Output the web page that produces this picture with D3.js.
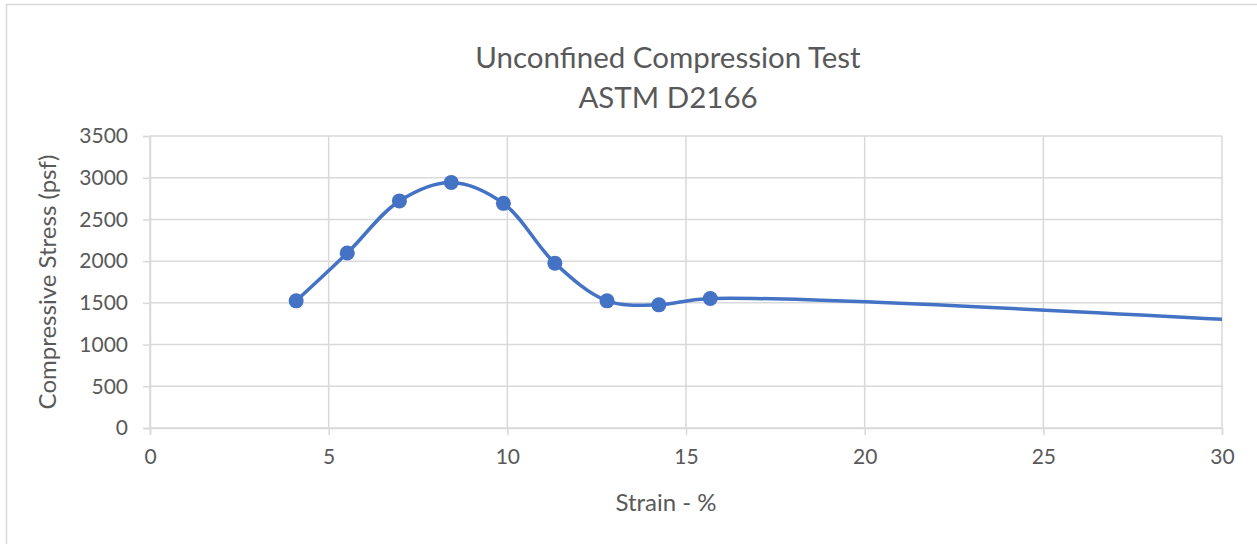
<!DOCTYPE html>
<html>
<head>
<meta charset="utf-8">
<script src="https://cdn.jsdelivr.net/npm/d3@7"></script>
<style>
  body { margin: 0; background: #fff; }
  svg text { font-family: Lato, "Open Sans", sans-serif; fill: #595959; }
</style>
</head>
<body>
<div id="chart"></div>
<script>
// strain (%) and compressive stress (psf)
const strain = [4.09, 5.52, 6.98, 8.43, 9.89, 11.33, 12.79, 14.24, 15.68, 40];
const stress = [1524, 2097, 2722, 2944, 2693, 1976, 1524, 1476, 1552, 1060];
const xTicks = [0, 5, 10, 15, 20, 25, 30];
const yTicks = [0, 500, 1000, 1500, 2000, 2500, 3000, 3500];
const titleLines = ['Unconfined Compression Test', 'ASTM D2166'];

const width = 1257, height = 544;
const margin = { left: 150, right: 35, top: 136, bottom: 116 };
const plotW = width - margin.left - margin.right;
const plotH = height - margin.top - margin.bottom;

const svg = d3.select('#chart').append('svg')
  .attr('width', width)
  .attr('height', height);

// chart border
svg.append('rect')
  .attr('x', 6.5).attr('y', 4.5)
  .attr('width', width + 10).attr('height', height + 10)
  .attr('fill', '#fff')
  .attr('stroke', '#d9d9d9')
  .attr('stroke-width', 1.5);

const x = d3.scaleLinear().domain([0, 30]).range([0, plotW]);
const y = d3.scaleLinear().domain([0, 3500]).range([plotH, 0]);

const g = svg.append('g')
  .attr('transform', `translate(${margin.left},${margin.top})`);

// grid
g.append('g')
  .selectAll('line')
  .data(yTicks)
  .join('line')
  .attr('x1', 0).attr('x2', plotW)
  .attr('y1', d => y(d)).attr('y2', d => y(d))
  .attr('stroke', '#d9d9d9').attr('stroke-width', 1.5);

g.append('g')
  .selectAll('line')
  .data(xTicks)
  .join('line')
  .attr('x1', d => x(d)).attr('x2', d => x(d))
  .attr('y1', 0).attr('y2', plotH)
  .attr('stroke', '#d9d9d9').attr('stroke-width', 1.5);

// axes
const xAxis = g.append('g')
  .attr('transform', `translate(0,${plotH})`)
  .call(d3.axisBottom(x).tickValues(xTicks).tickFormat(d3.format('d')).tickSize(7).tickPadding(14));

const yAxis = g.append('g')
  .call(d3.axisLeft(y).tickValues(yTicks).tickFormat(d3.format('d')).tickSize(7).tickPadding(15));

[xAxis, yAxis].forEach(a => {
  a.select('.domain').attr('stroke', '#d9d9d9').attr('stroke-width', 1.5);
  a.selectAll('.tick line').attr('stroke', '#d9d9d9').attr('stroke-width', 1.5);
  a.selectAll('.tick text')
    .attr('fill', '#595959')
    .style('font-size', '21px')
    .style('font-family', 'Lato, "Open Sans", sans-serif');
});

// series
g.append('clipPath').attr('id', 'clip')
  .append('rect').attr('x', -10).attr('y', -10)
  .attr('width', plotW + 10).attr('height', plotH + 20);

const pts = strain.map((s, i) => [s, stress[i]]);

const line = d3.line()
  .x(d => x(d[0]))
  .y(d => y(d[1]))
  .curve(d3.curveCatmullRom.alpha(0.5));

g.append('path')
  .datum(pts)
  .attr('clip-path', 'url(#clip)')
  .attr('d', line)
  .attr('fill', 'none')
  .attr('stroke', '#4472c4')
  .attr('stroke-width', 3.5);

g.append('g')
  .selectAll('circle')
  .data(pts.filter(d => d[0] <= 30))
  .join('circle')
  .attr('cx', d => x(d[0]))
  .attr('cy', d => y(d[1]))
  .attr('r', 7.5)
  .attr('fill', '#4472c4');

// titles
svg.append('g')
  .selectAll('text')
  .data(titleLines)
  .join('text')
  .attr('x', 668)
  .attr('y', (d, i) => 68 + i * 40)
  .attr('text-anchor', 'middle')
  .style('font-size', '29.5px')
  .text(d => d);

svg.append('text')
  .attr('x', 666)
  .attr('y', 511)
  .attr('text-anchor', 'middle')
  .style('font-size', '24px')
  .text('Strain - %');

svg.append('text')
  .attr('transform', `translate(56,${margin.top + plotH / 2}) rotate(-90)`)
  .attr('text-anchor', 'middle')
  .style('font-size', '24px')
  .text('Compressive Stress (psf)');
</script>
</body>
</html>
